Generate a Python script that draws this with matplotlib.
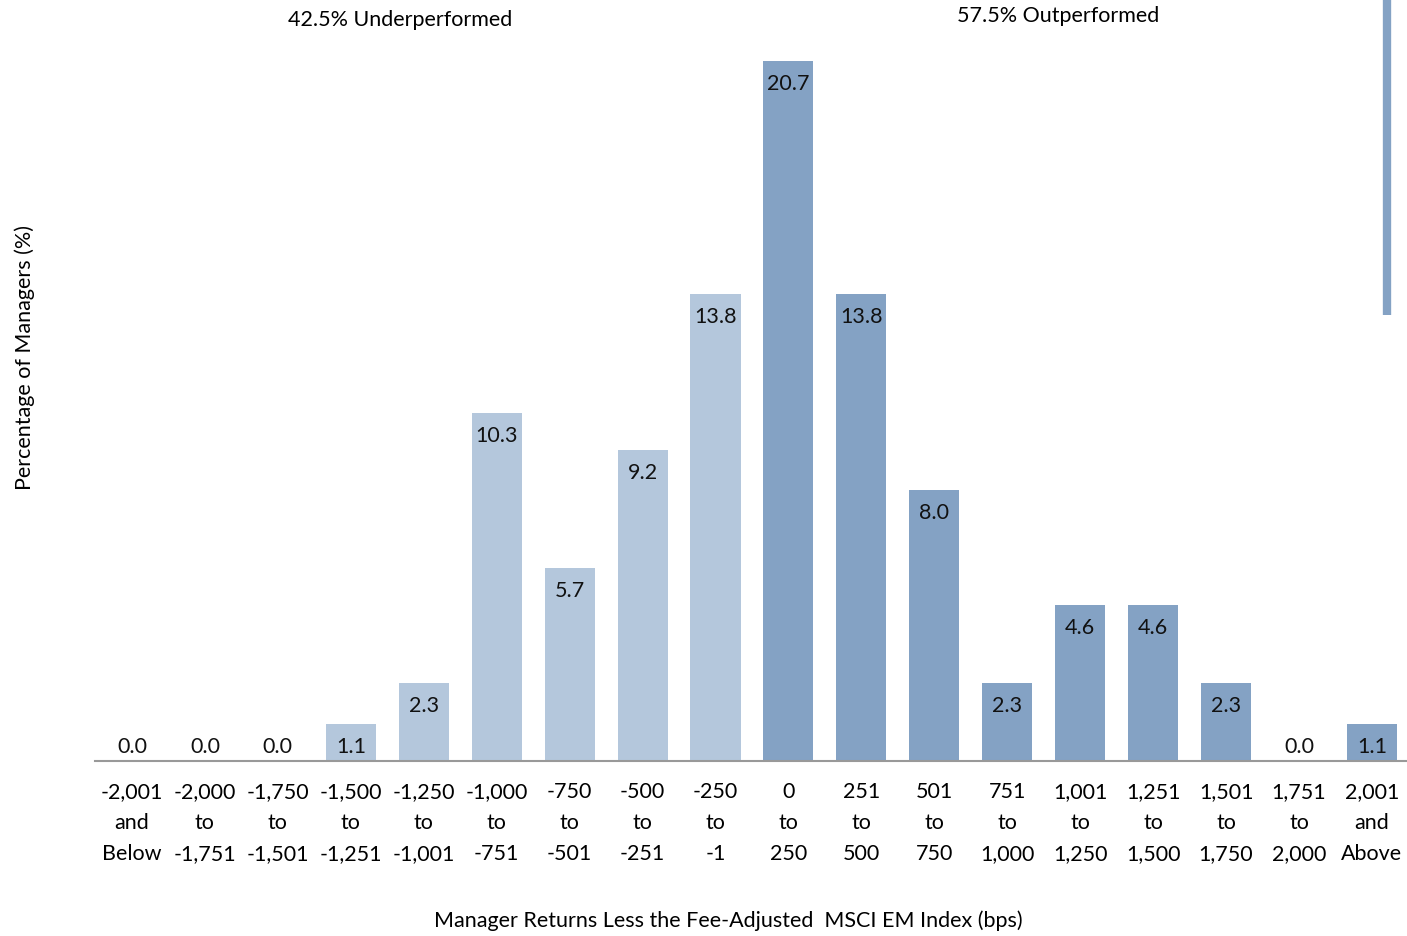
import numpy as np
import matplotlib.pyplot as plt

plt.rcParams['font.family'] = ['Lato', 'DejaVu Sans']

# Data
bins = ['-2,001\nand\nBelow', '-2,000\nto\n-1,751', '-1,750\nto\n-1,501', '-1,500\nto\n-1,251',
        '-1,250\nto\n-1,001', '-1,000\nto\n-751', '-750\nto\n-501', '-500\nto\n-251',
        '-250\nto\n-1', '0\nto\n250', '251\nto\n500', '501\nto\n750', '751\nto\n1,000',
        '1,001\nto\n1,250', '1,251\nto\n1,500', '1,501\nto\n1,750', '1,751\nto\n2,000',
        '2,001\nand\nAbove']
pct = [0.0, 0.0, 0.0, 1.1, 2.3, 10.3, 5.7, 9.2, 13.8, 20.7, 13.8, 8.0, 2.3, 4.6, 4.6, 2.3, 0.0, 1.1]
n_under = 9  # first 9 bins underperformed

light = '#b4c7dc'
dark = '#84a2c4'
fs = 15.5

fig = plt.figure(figsize=(14.07, 9.36), dpi=100)
ax = fig.add_axes([95 / 1407, 1 - 761 / 936, 1312 / 1407, 761 / 936])

x = np.arange(len(pct))
colors = [light if i < n_under else dark for i in range(len(pct))]
ax.bar(x, pct, width=0.686, color=colors, zorder=2)

for xi, v in zip(x, pct):
    y = max(v - 0.68, 0.4)
    ax.text(xi, y, f'{v:.1f}', ha='center', va='center', fontsize=fs, color='#111111', zorder=3)

ax.set_xlim(-0.507, 17.48)
ax.set_ylim(0, 22.5)
ax.set_xticks(x)
ax.set_xticklabels(bins, fontsize=fs, linespacing=1.7)
ax.tick_params(axis='x', length=0, pad=15)
ax.set_yticks([])
for s in ['top', 'right', 'left']:
    ax.spines[s].set_visible(False)
ax.spines['bottom'].set_color('#999999')
ax.spines['bottom'].set_linewidth(1.5)

# stray bar on the right edge
ax.axvline(17.2, ymin=13.2 / 22.5, ymax=1, color=dark, linewidth=6, solid_capstyle='butt')

fig.text(400 / 1407, 1 - 20 / 936, '42.5% Underperformed', ha='center', va='center', fontsize=fs)
fig.text(1058 / 1407, 1 - 16 / 936, '57.5% Outperformed', ha='center', va='center', fontsize=fs)
fig.text(25 / 1407, 1 - 358 / 936, 'Percentage of Managers (%)', rotation=90,
         ha='center', va='center', fontsize=fs)
fig.text(728 / 1407, 1 - 921 / 936, 'Manager Returns Less the Fee-Adjusted  MSCI EM Index (bps)',
         ha='center', va='center', fontsize=fs)

fig.savefig('out.png', dpi=100)
